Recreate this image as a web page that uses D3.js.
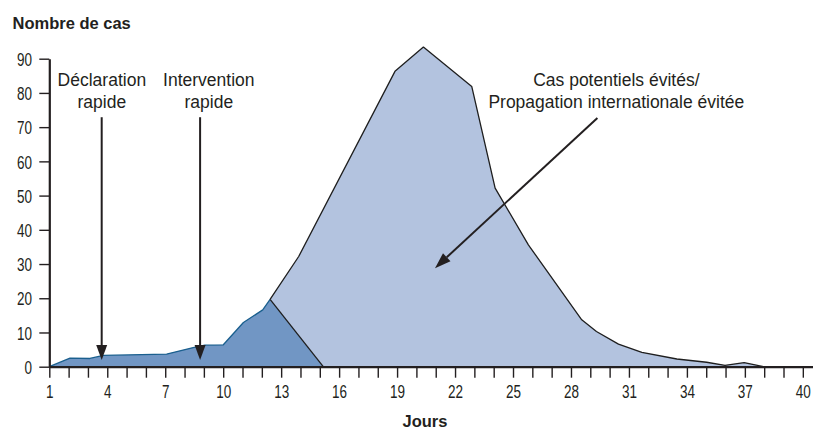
<!DOCTYPE html>
<html>
<head>
<meta charset="utf-8">
<script src="https://cdn.jsdelivr.net/npm/d3@7"></script>
<style>
  html, body { margin: 0; padding: 0; background: #fff; }
  svg { display: block; }
</style>
</head>
<body>
<svg id="chart" width="813" height="432"></svg>
<script>
// ---- Data ----
const reportedDays   = [1, 2.07, 3.1, 3.8, 7.07, 8.6, 9.05, 10, 11.04, 12.04, 12.42];
const reportedCases  = [0, 2.5, 2.4, 3.3, 3.7, 5.8, 6.3, 6.4, 12.9, 16.6, 19.7];
const reportedEndDay = 15.17;

const avoidedDays  = [12.42, 13.9, 18.88, 20.35, 22.85, 24.06, 25.78, 28.54, 29.3, 30.44, 31.65, 33.46, 35.0, 35.95, 36.94, 37.94];
const avoidedCases = [19.7, 32.2, 86.3, 93.4, 81.9, 52.2, 35.6, 13.7, 10.3, 6.6, 4.2, 2.25, 1.3, 0.4, 1.2, 0];

const xTickDays   = d3.range(1, 41);
const xLabelDays  = [1, 4, 7, 10, 13, 16, 19, 22, 25, 28, 31, 34, 37, 40];
const yTickValues = [0, 10, 20, 30, 40, 50, 60, 70, 80, 90];

const yTitle = "Nombre de cas";
const xTitle = "Jours";

const annoLabels = [["Déclaration", "rapide"], ["Intervention", "rapide"]];
const annoDays   = [3.71, 8.8];
const annoLabelDays = [3.72, 9.25];
const annoTop    = 72.9;
const annoTip    = 1.96;

const bigLabel = ["Cas potentiels évités/", "Propagation internationale évitée"];
const bigLabelDay = 30.33;
const bigArrowFrom = [29.35, 72.7];
const bigArrowTo   = [20.95, 28.8];

// ---- Setup ----
const svg = d3.select("#chart");
const x = d3.scaleLinear().domain([1, 40]).range([49.3, 803.3]);
const y = d3.scaleLinear().domain([0, 90]).range([366.7, 58.7]);
const ink = "#231f20";
const font = "'Liberation Sans', Arial, sans-serif";

const reported = reportedDays.map((d, i) => [d, reportedCases[i]]);
const avoided  = avoidedDays.map((d, i) => [d, avoidedCases[i]]);

const area = d3.area().x(d => x(d[0])).y0(y(0)).y1(d => y(d[1]));
const line = d3.line().x(d => x(d[0])).y(d => y(d[1]));

// light area (avoided)
svg.append("path").datum(avoided)
  .attr("d", area).attr("fill", "#b3c3df");
svg.append("path").datum(avoided)
  .attr("d", line).attr("fill", "none").attr("stroke", "#1e1e1e").attr("stroke-width", 1.3)
  .attr("stroke-linejoin", "round");

// dark area (reported)
const darkPoly = reported.concat([[reportedEndDay, 0]]);
svg.append("path").datum(darkPoly)
  .attr("d", area).attr("fill", "#7196c4");
svg.append("path").datum(reported)
  .attr("d", line).attr("fill", "none").attr("stroke", "#1a5f8e").attr("stroke-width", 1.3)
  .attr("stroke-linejoin", "round");
svg.append("path").datum([reported[reported.length - 1], [reportedEndDay, 0]])
  .attr("d", line).attr("fill", "none").attr("stroke", "#1e1e1e").attr("stroke-width", 1.3);

// ---- Axes ----
const xAxisScale = x.copy().domain([1, 40.63]).range([49.3, 815]);
const xAxis = d3.axisBottom(xAxisScale)
  .tickValues(xTickDays).tickSize(11).tickSizeOuter(0)
  .tickFormat(d => xLabelDays.includes(d) ? d : "");
const gx = svg.append("g").attr("transform", `translate(0,${y(0)})`).call(xAxis);
gx.select(".domain").attr("stroke", ink).attr("stroke-width", 2.2);
gx.selectAll(".tick line").attr("stroke", ink).attr("stroke-width", 1.4);
gx.selectAll(".tick text")
  .attr("fill", ink).attr("font-family", font).attr("font-size", 18.5)
  .attr("y", 31).attr("dy", 0)
  .attr("transform", "scale(0.73,1)");

const yAxis = d3.axisLeft(y).tickValues(yTickValues).tickSize(10).tickSizeOuter(0);
const gy = svg.append("g").attr("transform", `translate(${x(1)},0)`).call(yAxis);
gy.select(".domain").attr("stroke", ink).attr("stroke-width", 2.2);
gy.selectAll(".tick line").attr("stroke", ink).attr("stroke-width", 1.4);
gy.selectAll(".tick text")
  .attr("fill", ink).attr("font-family", font).attr("font-size", 18.5)
  .attr("x", -17.3 / 0.73).attr("dy", "0.36em")
  .attr("transform", "scale(0.73,1)");

// titles
svg.append("text").text(yTitle)
  .attr("x", 12.5).attr("y", 29)
  .attr("font-family", font).attr("font-weight", "bold").attr("font-size", 16.5).attr("fill", ink);
svg.append("text").text(xTitle)
  .attr("x", 425).attr("y", 427).attr("text-anchor", "middle")
  .attr("font-family", font).attr("font-weight", "bold").attr("font-size", 16.5).attr("fill", ink);

// ---- Annotations ----
function arrowHead(x1, y1, x2, y2, len, half) {
  const dx = x2 - x1, dy = y2 - y1, L = Math.hypot(dx, dy);
  const ux = dx / L, uy = dy / L;
  const bx = x2 - ux * len, by = y2 - uy * len;
  const px = -uy * half, py = ux * half;
  return { base: [bx, by], d: `M${x2},${y2}L${bx + px},${by + py}L${bx - px},${by - py}Z` };
}

annoDays.forEach((day, i) => {
  const ax = x(day), y1 = y(annoTop), y2 = y(annoTip);
  const h = arrowHead(ax, y1, ax, y2, 15, 5.5);
  svg.append("line").attr("x1", ax).attr("x2", ax).attr("y1", y1).attr("y2", h.base[1] + 1)
    .attr("stroke", ink).attr("stroke-width", 2);
  svg.append("path").attr("d", h.d).attr("fill", ink);
  annoLabels[i].forEach((t, j) => {
    svg.append("text").text(t)
      .attr("x", x(annoLabelDays[i])).attr("y", 86 + j * 22.3)
      .attr("text-anchor", "middle")
      .attr("font-family", font).attr("font-size", 17.5).attr("fill", ink);
  });
});

{
  const x1 = x(bigArrowFrom[0]), y1 = y(bigArrowFrom[1]);
  const x2 = x(bigArrowTo[0]), y2 = y(bigArrowTo[1]);
  const h = arrowHead(x1, y1, x2, y2, 16, 5.5);
  svg.append("line").attr("x1", x1).attr("y1", y1).attr("x2", h.base[0]).attr("y2", h.base[1])
    .attr("stroke", ink).attr("stroke-width", 2);
  svg.append("path").attr("d", h.d).attr("fill", ink);
  bigLabel.forEach((t, j) => {
    svg.append("text").text(t)
      .attr("x", x(bigLabelDay)).attr("y", 86 + j * 22.3)
      .attr("text-anchor", "middle")
      .attr("font-family", font).attr("font-size", 17.5).attr("fill", ink);
  });
}
</script>
</body>
</html>
